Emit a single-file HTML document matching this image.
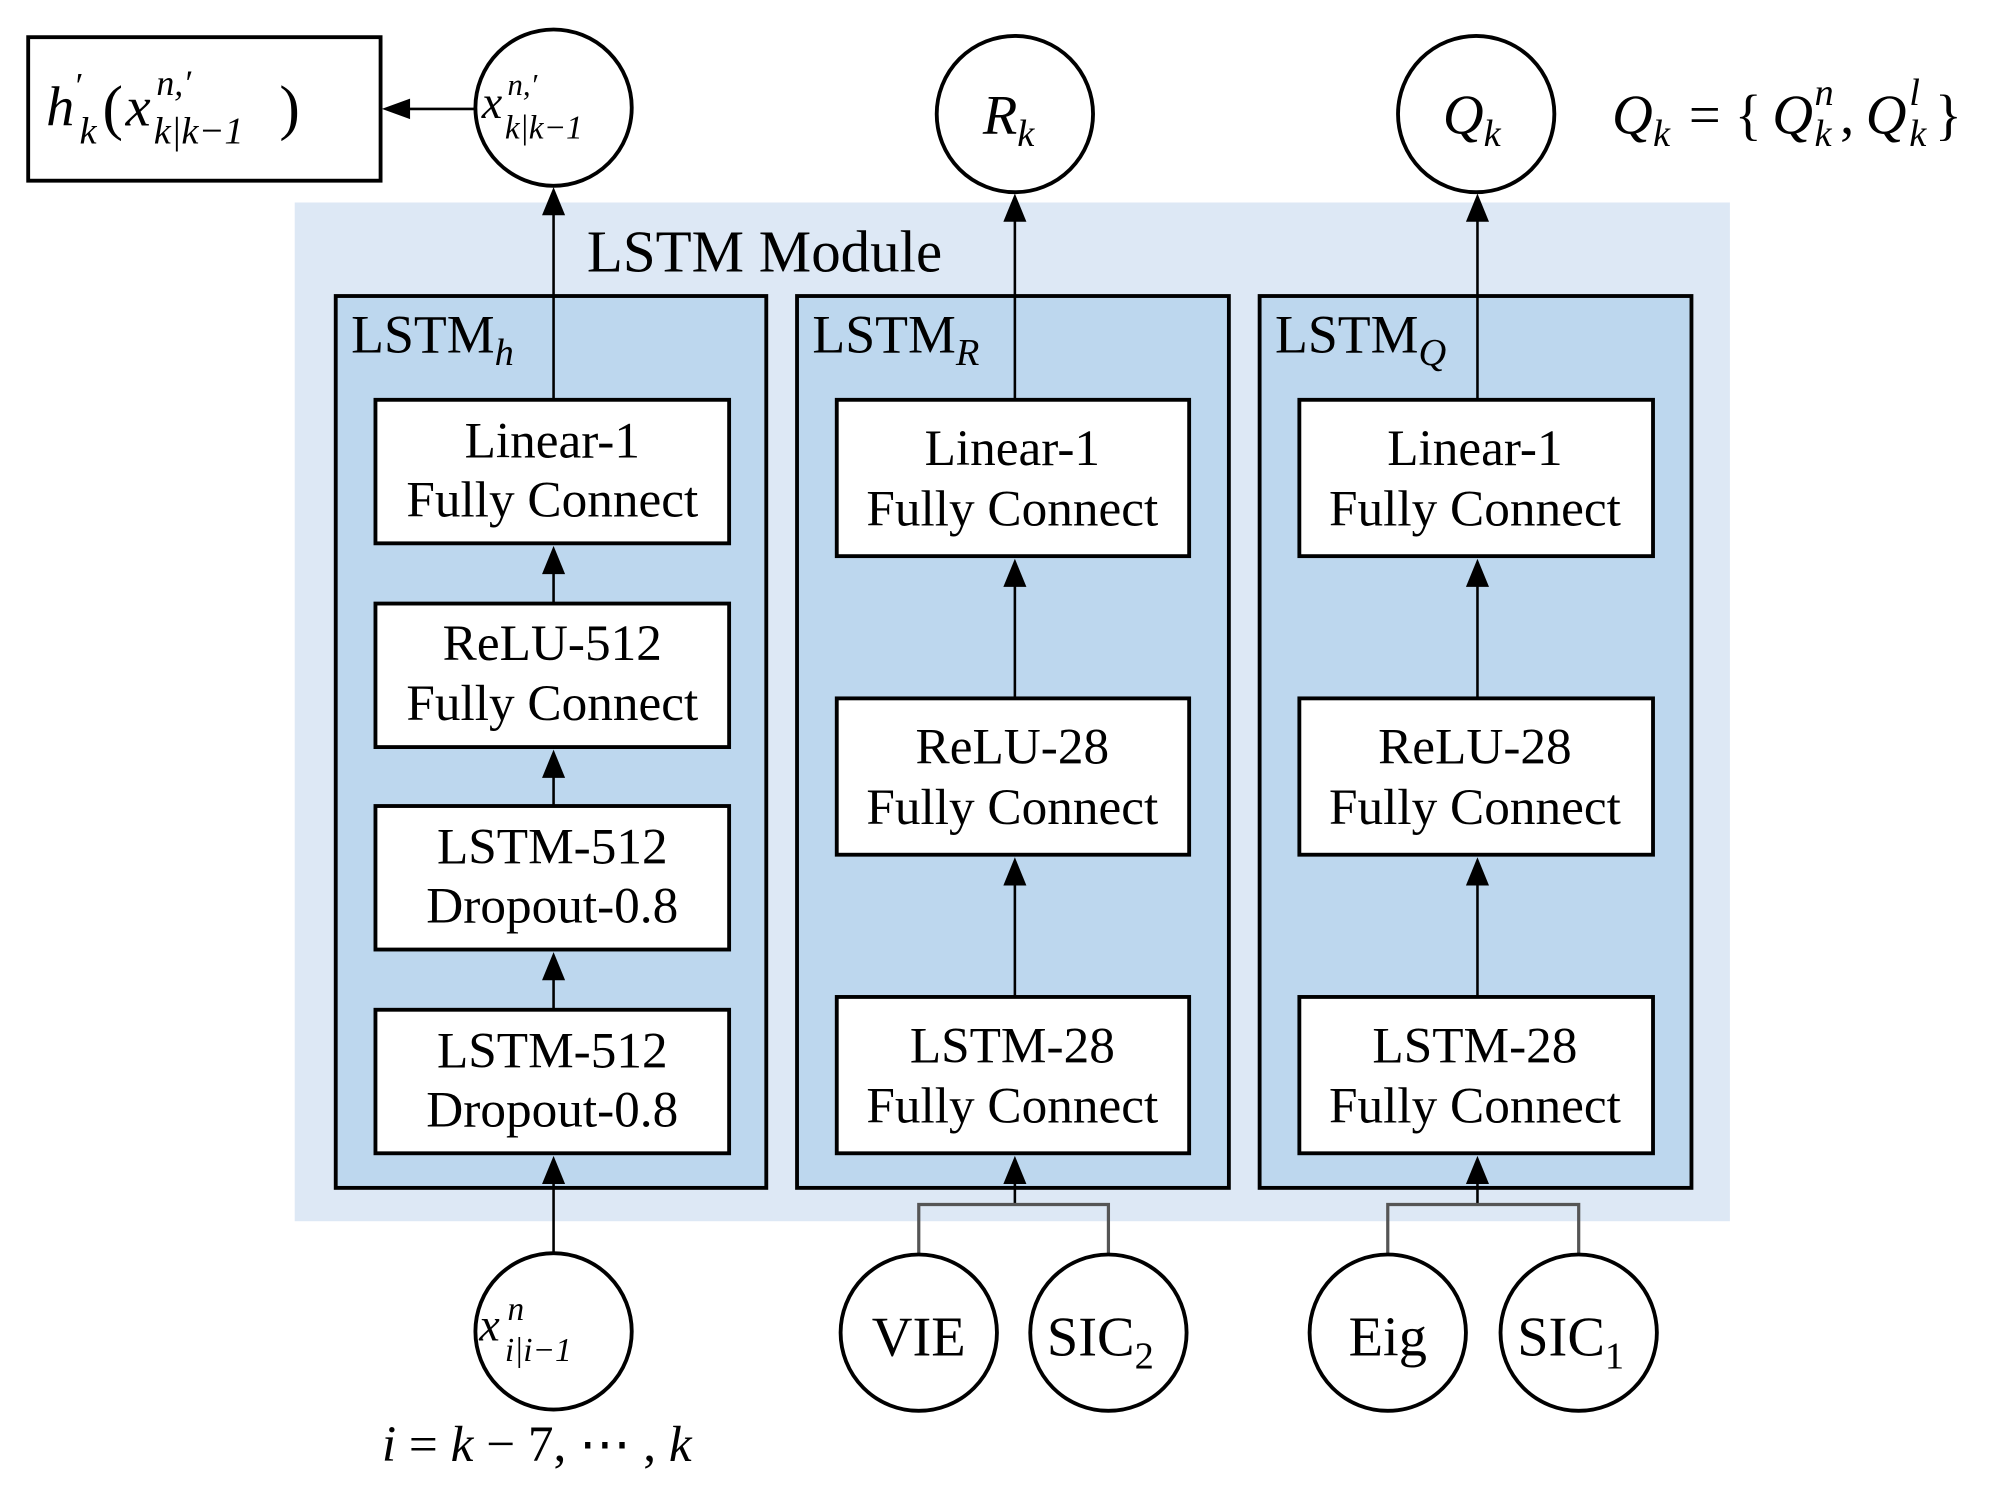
<!DOCTYPE html>
<html><head><meta charset="utf-8"><style>
html,body{margin:0;padding:0;background:#fff;}
svg{display:block;}
text{font-family:"Liberation Serif",serif;fill:#000;}
.i{font-style:italic;}
</style></head><body>
<svg width="1999" height="1488" viewBox="0 0 1560 1161.2" xmlns="http://www.w3.org/2000/svg">
<rect x="22" y="29" width="275" height="112" fill="#fff" stroke="#000" stroke-width="3"/>
<text x="36" y="98" font-size="44" class="i">h</text>
<text x="59" y="76" font-size="28">′</text>
<text x="62" y="112" font-size="30" class="i">k</text>
<text x="80" y="100" font-size="48">(</text>
<text x="98" y="98" font-size="44" class="i">x</text>
<text x="122" y="74" font-size="28" class="i">n,′</text>
<text x="120" y="112" font-size="30" class="i">k|k−1</text>
<text x="218" y="100" font-size="48">)</text>
<line x1="371" y1="85" x2="318" y2="85" stroke="#000" stroke-width="2"/>
<path d="M298,85 L320,77 L320,93 Z" fill="#000"/>
<circle cx="432" cy="84" r="61" fill="#fff" stroke="#000" stroke-width="3"/>
<text x="376" y="92" font-size="36" class="i">x</text>
<text x="396" y="74" font-size="24" class="i">n,′</text>
<text x="394" y="108" font-size="26" class="i">k|k−1</text>
<circle cx="792" cy="89" r="61" fill="#fff" stroke="#000" stroke-width="3"/>
<text x="767" y="104" font-size="44" class="i">R<tspan font-size="30" dy="10">k</tspan></text>
<circle cx="1152" cy="89" r="61" fill="#fff" stroke="#000" stroke-width="3"/>
<text x="1126" y="104" font-size="44" class="i">Q<tspan font-size="30" dy="10">k</tspan></text>
<text x="1258" y="104" font-size="44" class="i">Q</text>
<text x="1290" y="114" font-size="30" class="i">k</text>
<text x="1318" y="104" font-size="44">= {</text>
<text x="1383" y="104" font-size="44" class="i">Q</text>
<text x="1416" y="82" font-size="30" class="i">n</text>
<text x="1416" y="114" font-size="30" class="i">k</text>
<text x="1436" y="104" font-size="44">,</text>
<text x="1456" y="104" font-size="44" class="i">Q</text>
<text x="1490" y="82" font-size="30" class="i">l</text>
<text x="1490" y="114" font-size="30" class="i">k</text>
<text x="1510" y="104" font-size="44">}</text>
<rect x="230" y="158" width="1120" height="795" fill="#dde8f5"/>
<text x="458" y="212" font-size="46">LSTM Module</text>
<rect x="262" y="231" width="336" height="696" fill="#bdd7ee" stroke="#000" stroke-width="3"/>
<rect x="622" y="231" width="337" height="696" fill="#bdd7ee" stroke="#000" stroke-width="3"/>
<rect x="983" y="231" width="337" height="696" fill="#bdd7ee" stroke="#000" stroke-width="3"/>
<text x="274" y="275" font-size="42">LSTM<tspan font-size="30" dy="10" class="i">h</tspan></text>
<text x="634" y="275" font-size="42">LSTM<tspan font-size="30" dy="10" class="i">R</tspan></text>
<text x="995" y="275" font-size="42">LSTM<tspan font-size="30" dy="10" class="i">Q</tspan></text>
<g stroke="#000" stroke-width="2" fill="none">
<line x1="432" y1="312" x2="432" y2="150"/>
<line x1="432" y1="471" x2="432" y2="430"/>
<line x1="432" y1="629" x2="432" y2="590"/>
<line x1="432" y1="788" x2="432" y2="748"/>
<line x1="432" y1="978" x2="432" y2="906"/>
<line x1="792" y1="312" x2="792" y2="155"/>
<line x1="792" y1="545" x2="792" y2="440"/>
<line x1="792" y1="778" x2="792" y2="672"/>
<line x1="792" y1="940" x2="792" y2="906"/>
<line x1="1153" y1="312" x2="1153" y2="155"/>
<line x1="1153" y1="545" x2="1153" y2="440"/>
<line x1="1153" y1="778" x2="1153" y2="672"/>
<line x1="1153" y1="940" x2="1153" y2="906"/>
</g>
<g stroke="#555" stroke-width="2.5" fill="none">
<polyline points="717,979 717,940 865,940 865,979"/>
<polyline points="1083,979 1083,940 1232,940 1232,979"/>
</g>
<g fill="#fff" stroke="#000" stroke-width="3">
<rect x="293" y="312" width="276" height="112"/>
<rect x="293" y="471" width="276" height="112"/>
<rect x="293" y="629" width="276" height="112"/>
<rect x="293" y="788" width="276" height="112"/>
<rect x="653" y="312" width="275" height="122"/>
<rect x="653" y="545" width="275" height="122"/>
<rect x="653" y="778" width="275" height="122"/>
<rect x="1014" y="312" width="276" height="122"/>
<rect x="1014" y="545" width="276" height="122"/>
<rect x="1014" y="778" width="276" height="122"/>
</g>
<g fill="#000">
<path d="M432,146 l-9,22 h18 z"/>
<path d="M432,426 l-9,22 h18 z"/>
<path d="M432,585 l-9,22 h18 z"/>
<path d="M432,743 l-9,22 h18 z"/>
<path d="M432,902 l-9,22 h18 z"/>
<path d="M792,151 l-9,22 h18 z"/>
<path d="M792,436 l-9,22 h18 z"/>
<path d="M792,669 l-9,22 h18 z"/>
<path d="M792,902 l-9,22 h18 z"/>
<path d="M1153,151 l-9,22 h18 z"/>
<path d="M1153,436 l-9,22 h18 z"/>
<path d="M1153,669 l-9,22 h18 z"/>
<path d="M1153,902 l-9,22 h18 z"/>
</g>
<g font-size="40" text-anchor="middle">
<text x="431" y="357">Linear-1</text><text x="431" y="403">Fully Connect</text>
<text x="431" y="515">ReLU-512</text><text x="431" y="562">Fully Connect</text>
<text x="431" y="674">LSTM-512</text><text x="431" y="720">Dropout-0.8</text>
<text x="431" y="833">LSTM-512</text><text x="431" y="879">Dropout-0.8</text>
<text x="790" y="363">Linear-1</text><text x="790" y="410">Fully Connect</text>
<text x="790" y="596">ReLU-28</text><text x="790" y="643">Fully Connect</text>
<text x="790" y="829">LSTM-28</text><text x="790" y="876">Fully Connect</text>
<text x="1151" y="363">Linear-1</text><text x="1151" y="410">Fully Connect</text>
<text x="1151" y="596">ReLU-28</text><text x="1151" y="643">Fully Connect</text>
<text x="1151" y="829">LSTM-28</text><text x="1151" y="876">Fully Connect</text>
</g>
<g fill="#fff" stroke="#000" stroke-width="3">
<circle cx="432" cy="1039" r="61"/>
<circle cx="717" cy="1040" r="61"/>
<circle cx="865" cy="1040" r="61"/>
<circle cx="1083" cy="1040" r="61"/>
<circle cx="1232" cy="1040" r="61"/>
</g>
<text x="374" y="1046" font-size="36" class="i">x</text>
<text x="396" y="1030" font-size="26" class="i">n</text>
<text x="394" y="1062" font-size="26" class="i">i|i−1</text>
<text x="717" y="1058" font-size="44" text-anchor="middle">VIE</text>
<text x="817" y="1058" font-size="44">SIC<tspan font-size="30" dy="10">2</tspan></text>
<text x="1083" y="1058" font-size="44" text-anchor="middle">Eig</text>
<text x="1184" y="1058" font-size="44">SIC<tspan font-size="30" dy="10">1</tspan></text>
<text x="298" y="1140" font-size="40" class="i">i <tspan font-style="normal">=</tspan> k <tspan font-style="normal">− 7, ⋯ ,</tspan> k</text>
</svg>
</body></html>
